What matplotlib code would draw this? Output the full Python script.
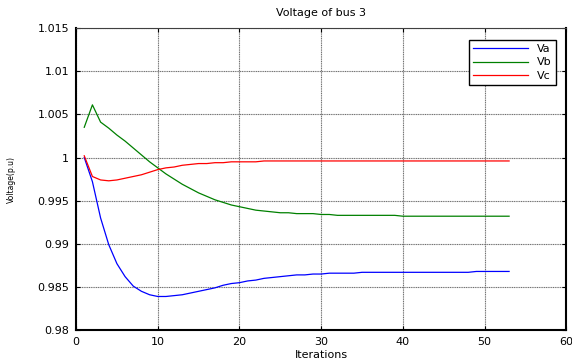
import numpy as np
import matplotlib.pyplot as plt
from matplotlib.ticker import FuncFormatter

plt.rcParams['font.family'] = ['DejaVu Sans']

iterations = list(range(1, 54))

va = [1.0000, 0.9972, 0.9930, 0.9899, 0.9877, 0.9862, 0.9851, 0.9845, 0.9841, 0.9839,
      0.9839, 0.9840, 0.9841, 0.9843, 0.9845, 0.9847, 0.9849, 0.9852, 0.9854, 0.9855,
      0.9857, 0.9858, 0.9860, 0.9861, 0.9862, 0.9863, 0.9864, 0.9864, 0.9865, 0.9865,
      0.9866, 0.9866, 0.9866, 0.9866, 0.9867, 0.9867, 0.9867, 0.9867, 0.9867, 0.9867,
      0.9867, 0.9867, 0.9867, 0.9867, 0.9867, 0.9867, 0.9867, 0.9867, 0.9868, 0.9868,
      0.9868, 0.9868, 0.9868]

vb = [1.0035, 1.0061, 1.0041, 1.0034, 1.0026, 1.0019, 1.0011, 1.0003, 0.9995, 0.9988,
      0.9981, 0.9975, 0.9969, 0.9964, 0.9959, 0.9955, 0.9951, 0.9948, 0.9945, 0.9943,
      0.9941, 0.9939, 0.9938, 0.9937, 0.9936, 0.9936, 0.9935, 0.9935, 0.9935, 0.9934,
      0.9934, 0.9933, 0.9933, 0.9933, 0.9933, 0.9933, 0.9933, 0.9933, 0.9933, 0.9932,
      0.9932, 0.9932, 0.9932, 0.9932, 0.9932, 0.9932, 0.9932, 0.9932, 0.9932, 0.9932,
      0.9932, 0.9932, 0.9932]

vc = [1.0002, 0.9978, 0.9974, 0.9973, 0.9974, 0.9976, 0.9978, 0.9980, 0.9983, 0.9986,
      0.9988, 0.9989, 0.9991, 0.9992, 0.9993, 0.9993, 0.9994, 0.9994, 0.9995, 0.9995,
      0.9995, 0.9995, 0.9996, 0.9996, 0.9996, 0.9996, 0.9996, 0.9996, 0.9996, 0.9996,
      0.9996, 0.9996, 0.9996, 0.9996, 0.9996, 0.9996, 0.9996, 0.9996, 0.9996, 0.9996,
      0.9996, 0.9996, 0.9996, 0.9996, 0.9996, 0.9996, 0.9996, 0.9996, 0.9996, 0.9996,
      0.9996, 0.9996, 0.9996]

fig = plt.figure(figsize=(5.72, 3.64), dpi=100)
ax = fig.add_axes([0.133, 0.093, 0.857, 0.830])

ax.plot(iterations, va, color='#0000ff', lw=0.9, label='Va')
ax.plot(iterations, vb, color='#008000', lw=0.9, label='Vb')
ax.plot(iterations, vc, color='#ff0000', lw=0.9, label='Vc')

ax.set_xlim(0, 60)
ax.set_ylim(0.98, 1.015)
ax.set_xticks(np.arange(0, 61, 10))
ax.set_yticks(np.arange(0.98, 1.0151, 0.005))
ax.yaxis.set_major_formatter(FuncFormatter(lambda v, p: f'{v:.3f}'.rstrip('0').rstrip('.')))
ax.grid(True, color='#707070', linestyle=(0, (1, 0.6)), linewidth=0.8)
ax.tick_params(direction='in', top=True, right=True, labelsize=8, length=3, width=0.8, pad=5)

for s in ax.spines.values():
    s.set_linewidth(1.5)
ax.spines['top'].set_linewidth(0.8)
ax.spines['top'].set_color('#404040')

ax.set_title('Voltage of bus 3', fontsize=8, pad=9)
ax.set_xlabel('Iterations', fontsize=8, labelpad=2)
ax.set_ylabel('Voltage(p.u)', fontsize=5.5, labelpad=15)

leg = ax.legend(loc='upper right', bbox_to_anchor=(0.99, 0.98), fontsize=8,
                fancybox=False, framealpha=1, edgecolor='black', borderpad=0.35,
                handlelength=5.0, labelspacing=0.35)
leg.get_frame().set_linewidth(1.0)

plt.savefig('out.png', dpi=100)
